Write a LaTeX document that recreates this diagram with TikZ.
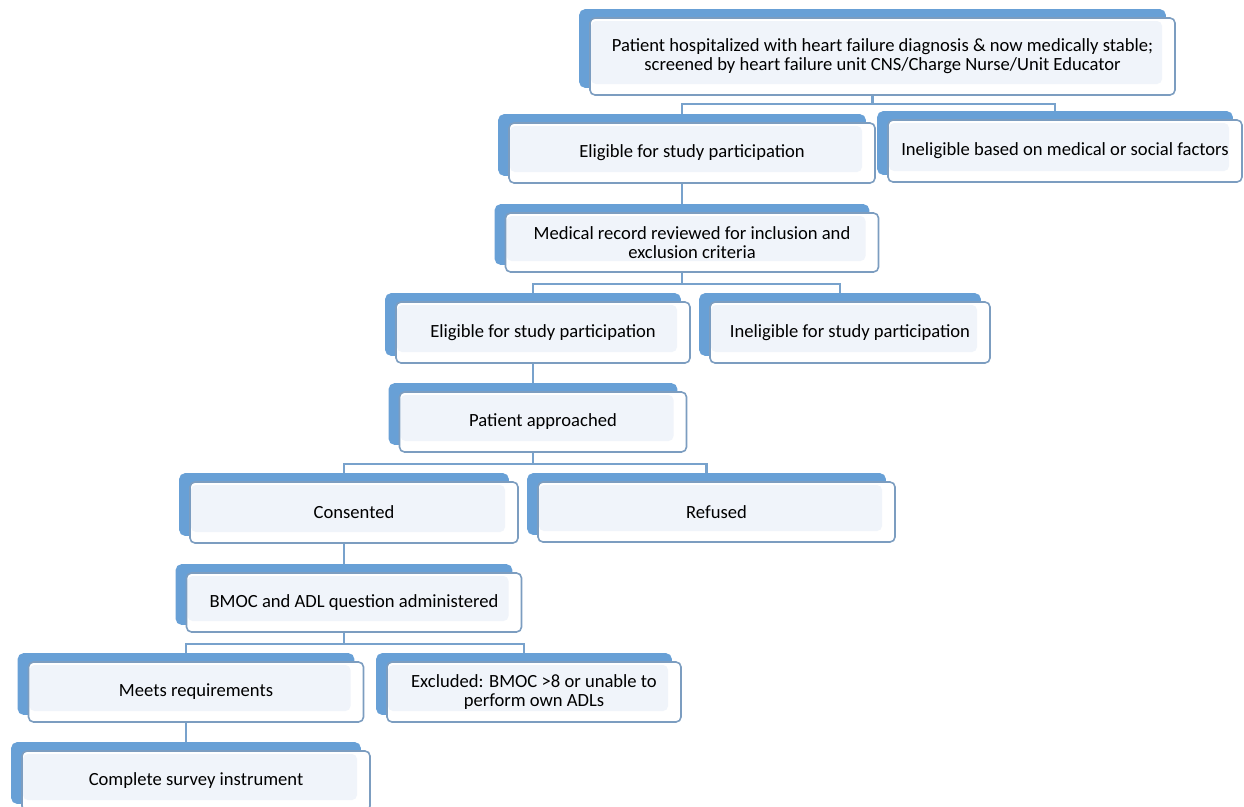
\documentclass[tikz,border=0pt]{standalone}
\usepackage{fontspec}
\setmainfont{Carlito}
\usetikzlibrary{shadows}

\definecolor{backblue}{HTML}{68A0D6}
\definecolor{edgeblue}{HTML}{7C9DC0}
\definecolor{linkblue}{HTML}{78A2CC}
\definecolor{paleblue}{HTML}{F0F4FA}

\tikzset{
  card/.style={draw=edgeblue, line width=1.6pt, rounded corners=5pt, fill=white,
    align=center, inner sep=0pt, minimum height=60pt,
    font=\fontsize{18.6}{19}\selectfont,
    copy shadow={shadow xshift=-10pt, shadow yshift=8pt, fill=backblue, draw=backblue},
    path picture={\fill[paleblue] ([xshift=1pt,yshift=-3pt]path picture bounding box.north west)
      rectangle ([xshift=-13pt,yshift=11pt]path picture bounding box.south east);}},
  link/.style={draw=linkblue, line width=2.2pt},
}

\begin{document}
\begin{tikzpicture}[x=1pt, y=1pt]
  \useasboundingbox (0,0) rectangle (1244,-806);

  % screening
  \node[card, minimum width=585pt, minimum height=77pt] (screen) at (882.5,-56.5)
    {Patient hospitalized with heart failure diagnosis \& now medically stable;\\
     screened by heart failure unit CNS/Charge Nurse/Unit Educator};
  \node[card, minimum width=366pt] (eligA) at (692,-153) {Eligible for study participation};
  \node[card, minimum width=354pt, minimum height=62pt] (inelA) at (1065,-151) {Ineligible based on medical or social factors};

  % chart review
  \node[card, minimum width=373pt, minimum height=59pt] (review) at (692,-242.5)
    {Medical record reviewed for inclusion and\\ exclusion criteria};
  \node[card, minimum width=294pt, minimum height=61pt] (eligB) at (543,-332.5) {Eligible for study participation};
  \node[card, minimum width=280pt, minimum height=61pt] (inelB) at (850,-332.5) {Ineligible for study participation};

  % approach
  \node[card, minimum width=287pt] (approach) at (543,-422) {Patient approached};
  \node[card, minimum width=328pt, minimum height=61pt] (consent) at (354,-512.5) {Consented};
  \node[card, minimum width=357pt] (refuse) at (716.5,-512) {Refused};

  % screening tools
  \node[card, minimum width=335pt, minimum height=59pt] (bmoc) at (354,-602.5) {BMOC and ADL question administered};
  \node[card, minimum width=335pt] (meets) at (196,-692) {Meets requirements};
  \node[card, minimum width=294pt] (exclude) at (534,-692) {Excluded: BMOC >8 or unable to\\ perform own ADLs};
  \node[card, minimum width=348pt] (survey) at (196,-781) {Complete survey instrument};

  % connectors
  \draw[link] ([xshift=-10pt]screen.south) -- ++(0,-8.5) -| ([xshift=-10pt,yshift=8pt]eligA.north);
  \draw[link] ([xshift=-10pt]screen.south) -- ++(0,-8.5) -| ([xshift=-10pt,yshift=8pt]inelA.north);
  \draw[link] ([xshift=-10pt]eligA.south) -- ([xshift=-10pt,yshift=8pt]review.north);
  \draw[link] ([xshift=-10pt]review.south) -- ++(0,-11.5) -| ([xshift=-10pt,yshift=8pt]eligB.north);
  \draw[link] ([xshift=-10pt]review.south) -- ++(0,-11.5) -| ([xshift=-10pt,yshift=8pt]inelB.north);
  \draw[link] ([xshift=-10pt]eligB.south) -- ([xshift=-10pt,yshift=8pt]approach.north);
  \draw[link] ([xshift=-10pt]approach.south) -- ++(0,-11) -| ([xshift=-10pt,yshift=8pt]consent.north);
  \draw[link] ([xshift=-10pt]approach.south) -- ++(0,-11) -| ([xshift=-10pt,yshift=8pt]refuse.north);
  \draw[link] ([xshift=-10pt]consent.south) -- ([xshift=-10pt,yshift=8pt]bmoc.north);
  \draw[link] ([xshift=-10pt]bmoc.south) -- ++(0,-11) -| ([xshift=-10pt,yshift=8pt]meets.north);
  \draw[link] ([xshift=-10pt]bmoc.south) -- ++(0,-11) -| ([xshift=-10pt,yshift=8pt]exclude.north);
  \draw[link] ([xshift=-10pt]meets.south) -- ([xshift=-10pt,yshift=8pt]survey.north);
\end{tikzpicture}
\end{document}
